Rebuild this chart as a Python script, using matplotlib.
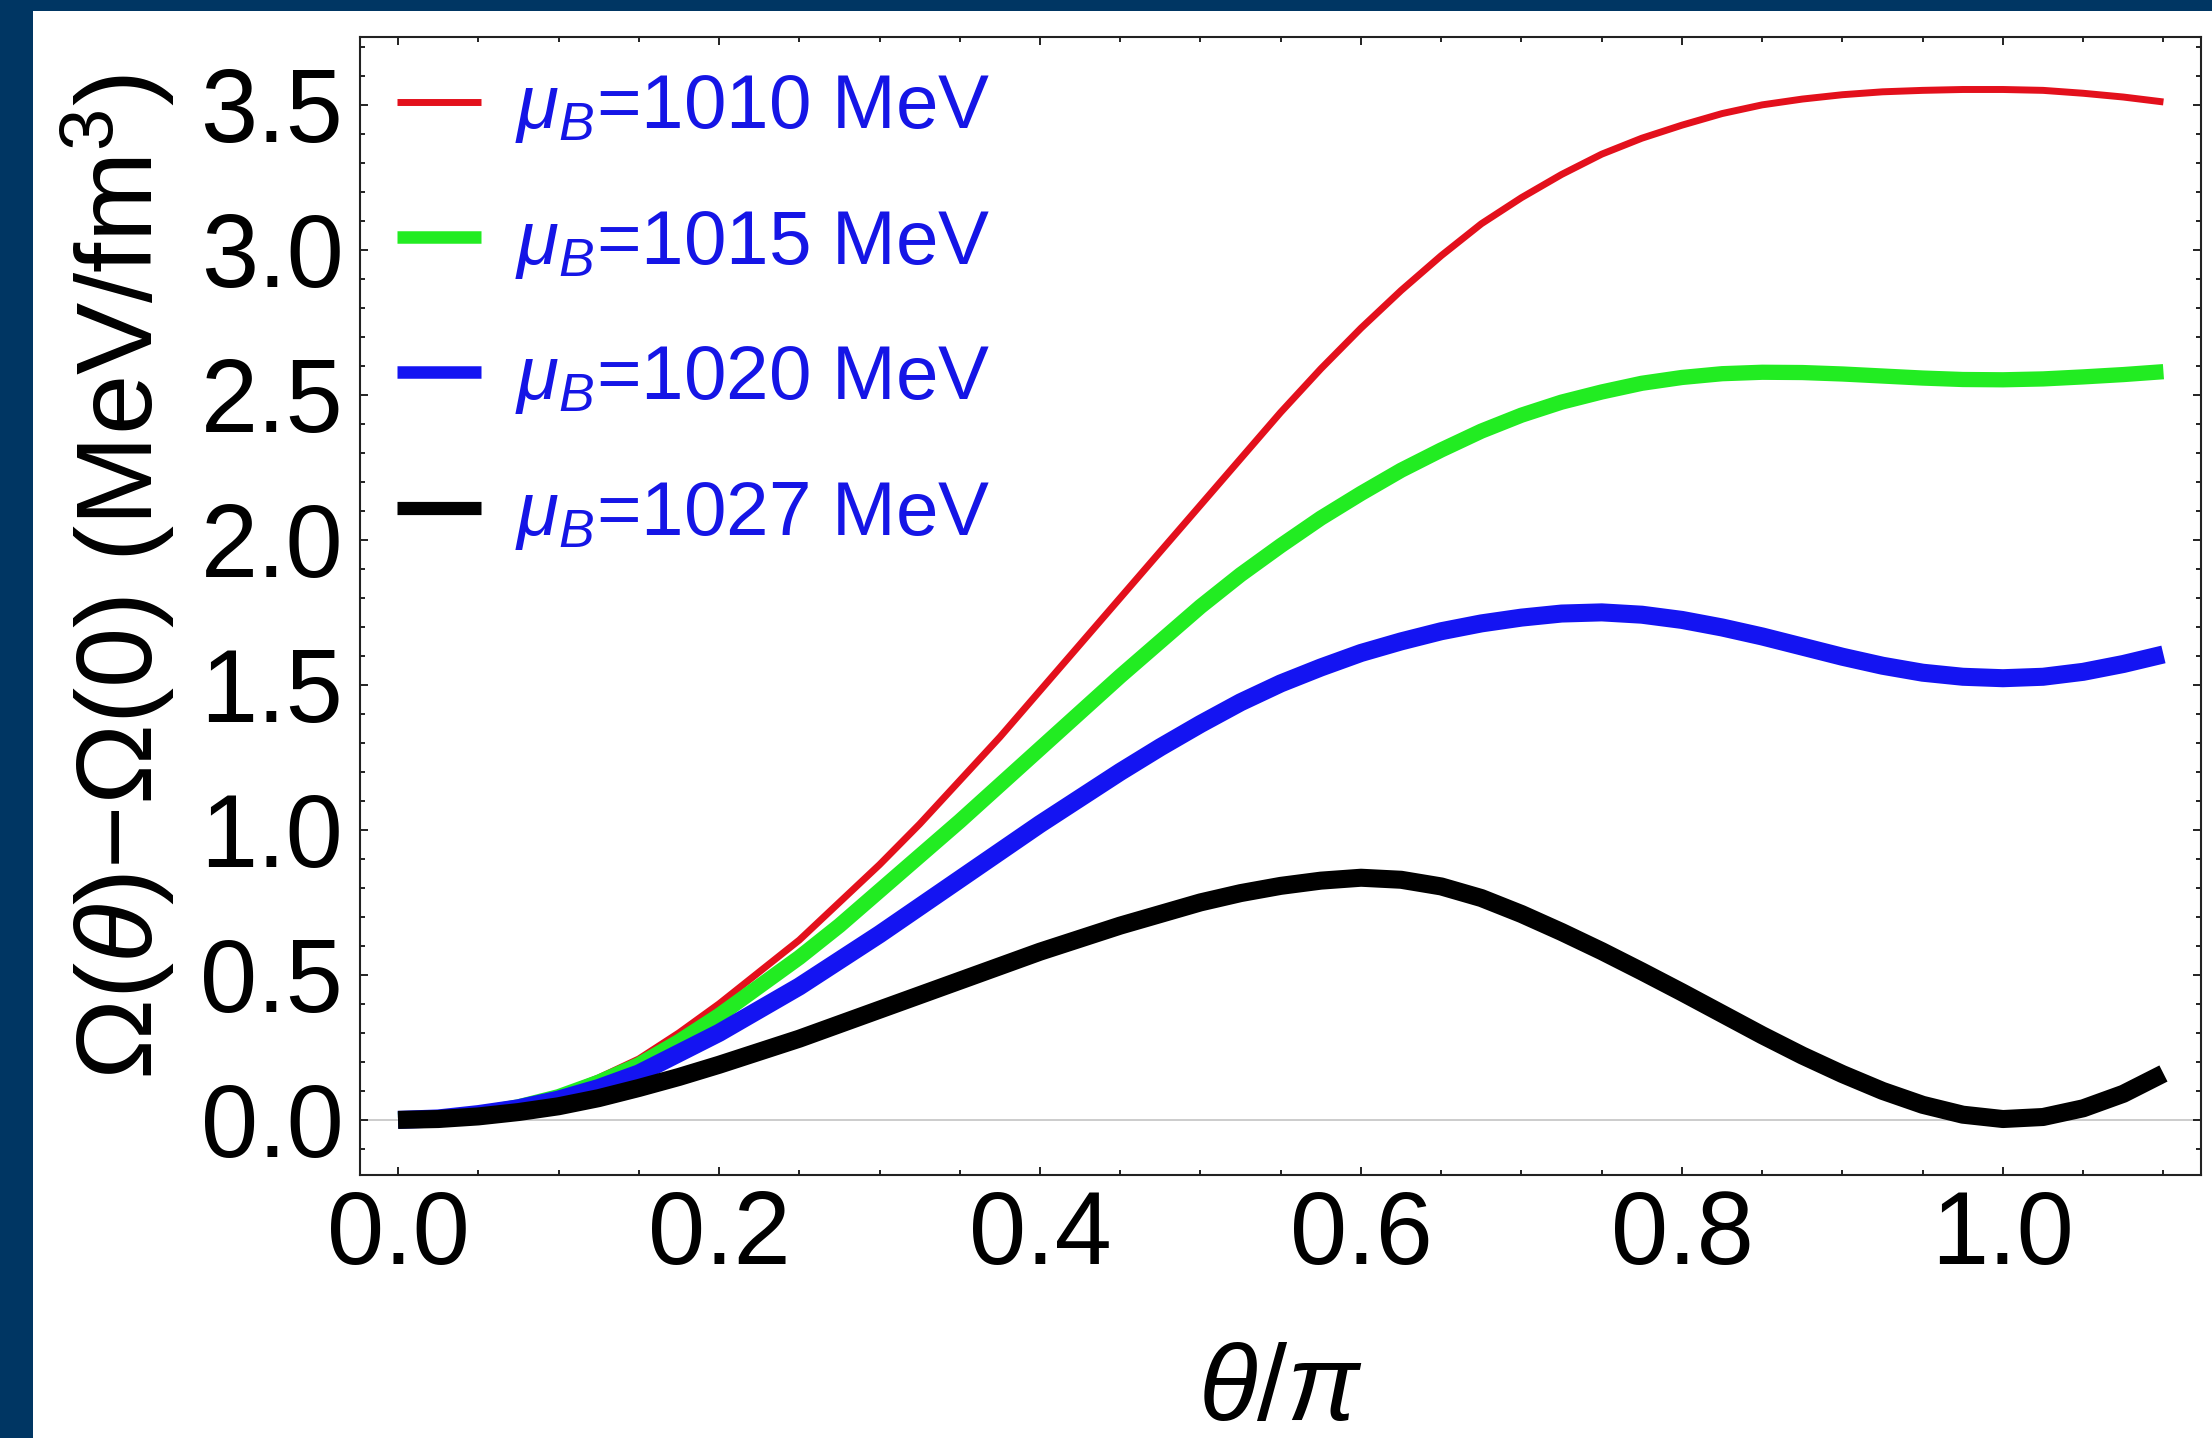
import matplotlib
matplotlib.use("Agg")
import matplotlib.pyplot as plt
from matplotlib.patches import Rectangle
from matplotlib.ticker import MultipleLocator

plt.rcParams['font.family'] = ['Liberation Sans', 'DejaVu Sans']
plt.rcParams['mathtext.fontset'] = 'custom'
plt.rcParams['mathtext.rm'] = 'Liberation Sans'
plt.rcParams['mathtext.it'] = 'Liberation Sans:italic'
plt.rcParams['mathtext.bf'] = 'Liberation Sans:bold'

# ---- data (theta/pi grid, step 0.025) ----
theta = [0.000, 0.025, 0.050, 0.075, 0.100, 0.125, 0.150, 0.175, 0.200, 0.225,
         0.250, 0.275, 0.300, 0.325, 0.350, 0.375, 0.400, 0.425, 0.450, 0.475,
         0.500, 0.525, 0.550, 0.575, 0.600, 0.625, 0.650, 0.675, 0.700, 0.725,
         0.750, 0.775, 0.800, 0.825, 0.850, 0.875, 0.900, 0.925, 0.950, 0.975,
         1.000, 1.025, 1.050, 1.075, 1.100]
omega_1010 = [0.000, 0.005, 0.020, 0.050, 0.090, 0.145, 0.210, 0.300, 0.400, 0.510,
              0.620, 0.750, 0.880, 1.020, 1.170, 1.320, 1.480, 1.640, 1.800, 1.960,
              2.120, 2.280, 2.440, 2.590, 2.730, 2.860, 2.980, 3.090, 3.180, 3.260,
              3.330, 3.385, 3.430, 3.470, 3.500, 3.520, 3.535, 3.545, 3.550, 3.553,
              3.553, 3.550, 3.540, 3.527, 3.510]
omega_1015 = [0.000, 0.005, 0.020, 0.045, 0.080, 0.130, 0.190, 0.270, 0.360, 0.460,
              0.560, 0.670, 0.790, 0.910, 1.030, 1.155, 1.280, 1.405, 1.530, 1.650,
              1.770, 1.880, 1.980, 2.075, 2.160, 2.240, 2.310, 2.375, 2.430, 2.475,
              2.510, 2.540, 2.560, 2.573, 2.578, 2.577, 2.572, 2.565, 2.558, 2.553,
              2.552, 2.555, 2.562, 2.570, 2.580]
omega_1020 = [0.000, 0.005, 0.020, 0.040, 0.070, 0.110, 0.160, 0.230, 0.300, 0.380,
              0.460, 0.550, 0.640, 0.735, 0.830, 0.925, 1.020, 1.110, 1.200, 1.285,
              1.365, 1.440, 1.505, 1.560, 1.610, 1.650, 1.685, 1.712, 1.732, 1.746,
              1.750, 1.742, 1.724, 1.698, 1.667, 1.632, 1.597, 1.566, 1.542, 1.528,
              1.523, 1.528, 1.545, 1.572, 1.605]
omega_1027 = [0.000, 0.003, 0.012, 0.027, 0.047, 0.075, 0.110, 0.148, 0.190, 0.235,
              0.280, 0.330, 0.380, 0.430, 0.480, 0.530, 0.580, 0.625, 0.670, 0.710,
              0.750, 0.782, 0.807, 0.825, 0.835, 0.828, 0.805, 0.765, 0.710, 0.648,
              0.582, 0.512, 0.440, 0.366, 0.292, 0.222, 0.158, 0.100, 0.052, 0.018,
              0.003, 0.010, 0.040, 0.090, 0.160]

labels = [r'$\mu_B$=1010 MeV', r'$\mu_B$=1015 MeV', r'$\mu_B$=1020 MeV', r'$\mu_B$=1027 MeV']
series = [omega_1010, omega_1015, omega_1020, omega_1027]
colors = ['#e3101c', '#22ec22', '#1414f2', '#000000']
widths = [5, 11, 13, 13]
legend_widths = [5, 9, 9, 9.5]

xticks = [0.0, 0.2, 0.4, 0.6, 0.8, 1.0]
yticks = [0.0, 0.5, 1.0, 1.5, 2.0, 2.5, 3.0, 3.5]

W, H = 2212, 1438
fig = plt.figure(figsize=(W / 100, H / 100), dpi=100)
fig.patch.set_facecolor('white')

# navy frame (top and left)
navy = '#003663'
fig.patches.append(Rectangle((0, 1 - 11 / H), 1, 11 / H, transform=fig.transFigure,
                             facecolor=navy, edgecolor='none', zorder=0))
fig.patches.append(Rectangle((0, 0), 33 / W, 1, transform=fig.transFigure,
                             facecolor=navy, edgecolor='none', zorder=0))

ax = fig.add_axes([360 / W, 1 - 1175 / H, (2201 - 360) / W, (1175 - 37) / H])

ax.axhline(0, color='#c8c8c8', lw=1.3, zorder=1)
for y, c, lw, lab in zip(series, colors, widths, labels):
    ax.plot(theta, y, color=c, lw=lw, label=lab, solid_capstyle='butt',
            solid_joinstyle='round', zorder=2)

ax.set_xlim(-0.0237, 1.1234)
ax.set_ylim(-0.19, 3.734)
ax.set_xticks(xticks)
ax.set_yticks(yticks)
ax.set_xticklabels([f'{v:.1f}' for v in xticks])
ax.set_yticklabels([f'{v:.1f}' for v in yticks])
ax.xaxis.set_minor_locator(MultipleLocator(0.05))
ax.yaxis.set_minor_locator(MultipleLocator(0.1))
ax.tick_params(which='both', direction='in', top=True, right=True, width=1.4, color='#222222')
ax.tick_params(which='major', length=6)
ax.tick_params(which='minor', length=3.5)
ax.tick_params(axis='y', which='major', labelsize=74, pad=12)
ax.tick_params(axis='x', which='major', labelsize=74, pad=10)
for s in ax.spines.values():
    s.set_linewidth(1.5)
    s.set_color('#222222')

ax.set_xlabel(r'$\theta/\pi$', fontsize=78)
ax.xaxis.set_label_coords(0.5, -0.147)
ax.set_ylabel('\u03a9($\\theta$)\u2212\u03a9(0) (MeV/fm$^3$)', fontsize=78)
ax.yaxis.set_label_coords(-0.099, 0.525)

leg = ax.legend(loc='upper left', bbox_to_anchor=(0.02, 0.968), frameon=False,
                fontsize=55, handlelength=1.1, handletextpad=0.45,
                labelspacing=0.83, borderpad=0, borderaxespad=0)
for t in leg.get_texts():
    t.set_color('#1515e6')
for l, lw in zip(leg.get_lines(), legend_widths):
    l.set_linewidth(lw)

fig.savefig('out.png', dpi=100, facecolor='white')
